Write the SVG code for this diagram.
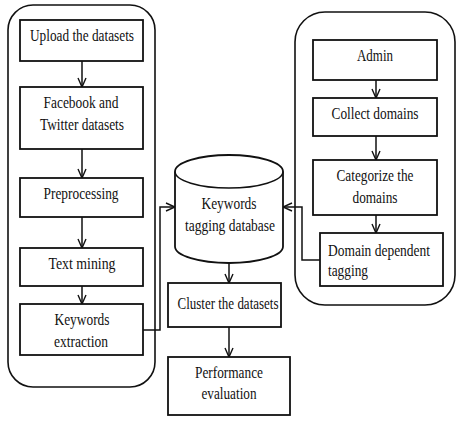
<svg xmlns="http://www.w3.org/2000/svg" width="474" height="423" viewBox="0 0 474 423">
<defs>
<style>
.c{fill:none;stroke:#111;stroke-width:1.6}
.b{fill:#fff;stroke:#111;stroke-width:1.8}
.t{font-family:"Liberation Serif","Times New Roman",serif;font-size:16px;fill:#111;text-anchor:middle}
.l{text-anchor:start}
.e{fill:none;stroke:#111;stroke-width:1.5}
</style>
<marker id="a" viewBox="0 0 10 10" refX="10" refY="5" markerWidth="10" markerHeight="10" markerUnits="userSpaceOnUse" orient="auto">
<path d="M1,1 L10,5 L1,9" fill="none" stroke="#111" stroke-width="1.4"/>
</marker>
</defs>
<rect width="474" height="423" fill="#fff"/>
<g id="containers">
<rect class="c" x="8" y="5" width="147" height="382" rx="25"/>
<rect class="c" x="295" y="12" width="160" height="293" rx="30"/>
</g>
<g id="connectors" class="e">
<line x1="82" y1="61" x2="82" y2="87" marker-end="url(#a)"/>
<line x1="82" y1="149" x2="82" y2="178" marker-end="url(#a)"/>
<line x1="82" y1="217" x2="82" y2="248" marker-end="url(#a)"/>
<line x1="82" y1="286" x2="82" y2="304" marker-end="url(#a)"/>
<line x1="376" y1="80" x2="376" y2="98" marker-end="url(#a)"/>
<line x1="376" y1="136" x2="376" y2="160" marker-end="url(#a)"/>
<line x1="376" y1="215" x2="376" y2="233" marker-end="url(#a)"/>
<polyline points="143,330 160,330 160,207 175,207" marker-end="url(#a)"/>
<polyline points="320,260 302,260 302,207 283,207" marker-end="url(#a)"/>
<line x1="229" y1="263" x2="229" y2="283" marker-end="url(#a)"/>
<line x1="229" y1="327" x2="229" y2="357" marker-end="url(#a)"/>
</g>
<g id="upload">
<rect class="b" x="20" y="20" width="123" height="41"/>
<text class="t" x="82" y="41" textLength="104" lengthAdjust="spacingAndGlyphs">Upload the datasets</text>
</g>
<g id="facebook">
<rect class="b" x="20" y="87" width="123" height="62"/>
<text class="t" x="81" y="108" textLength="75" lengthAdjust="spacingAndGlyphs">Facebook and</text>
<text class="t" x="82" y="130" textLength="84" lengthAdjust="spacingAndGlyphs">Twitter datasets</text>
</g>
<g id="preprocessing">
<rect class="b" x="20" y="178" width="123" height="39"/>
<text class="t" x="81" y="199" textLength="75" lengthAdjust="spacingAndGlyphs">Preprocessing</text>
</g>
<g id="textmining">
<rect class="b" x="20" y="248" width="123" height="38"/>
<text class="t" x="82" y="269" textLength="67" lengthAdjust="spacingAndGlyphs">Text mining</text>
</g>
<g id="extraction">
<rect class="b" x="20" y="304" width="123" height="51"/>
<text class="t" x="82" y="325" textLength="55" lengthAdjust="spacingAndGlyphs">Keywords</text>
<text class="t" x="81" y="347" textLength="54" lengthAdjust="spacingAndGlyphs">extraction</text>
</g>
<g id="database">
<path class="b" d="M175,171.5 L175,246.5 A54,16.5 0 0 0 283,246.5 L283,171.5 A54,16.5 0 0 0 175,171.5 Z"/>
<path class="e" d="M175,171.5 A54,16.5 0 0 0 283,171.5"/>
<text class="t" x="229" y="209" textLength="55" lengthAdjust="spacingAndGlyphs">Keywords</text>
<text class="t" x="230" y="231" textLength="90" lengthAdjust="spacingAndGlyphs">tagging database</text>
</g>
<g id="cluster">
<rect class="b" x="168" y="283" width="113" height="44"/>
<text class="t" x="228" y="309" textLength="101" lengthAdjust="spacingAndGlyphs">Cluster the datasets</text>
</g>
<g id="performance">
<rect class="b" x="168" y="357" width="122" height="58"/>
<text class="t" x="229" y="378" textLength="68" lengthAdjust="spacingAndGlyphs">Performance</text>
<text class="t" x="229" y="399" textLength="55" lengthAdjust="spacingAndGlyphs">evaluation</text>
</g>
<g id="admin">
<rect class="b" x="313" y="40" width="124" height="40"/>
<text class="t" x="375" y="61" textLength="36" lengthAdjust="spacingAndGlyphs">Admin</text>
</g>
<g id="collect">
<rect class="b" x="313" y="98" width="124" height="38"/>
<text class="t" x="375" y="119" textLength="87" lengthAdjust="spacingAndGlyphs">Collect domains</text>
</g>
<g id="categorize">
<rect class="b" x="313" y="160" width="124" height="55"/>
<text class="t" x="375" y="181" textLength="77" lengthAdjust="spacingAndGlyphs">Categorize the</text>
<text class="t" x="375" y="203" textLength="45" lengthAdjust="spacingAndGlyphs">domains</text>
</g>
<g id="domaintagging">
<rect class="b" x="320" y="233" width="123" height="53"/>
<text class="t l" x="328" y="256" textLength="102" lengthAdjust="spacingAndGlyphs">Domain dependent</text>
<text class="t l" x="328" y="276" textLength="40" lengthAdjust="spacingAndGlyphs">tagging</text>
</g>
</svg>
